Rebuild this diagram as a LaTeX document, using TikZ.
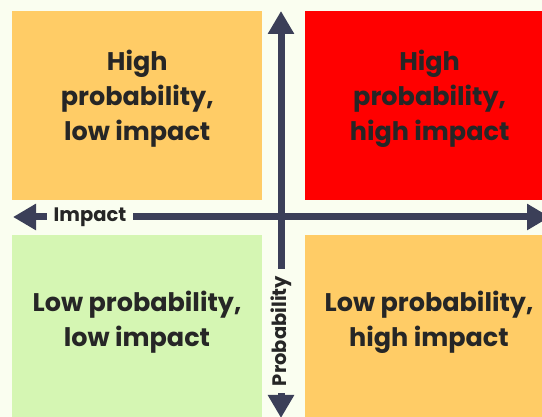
\documentclass[tikz,border=0pt]{standalone}
\usepackage{fontspec}
\setmainfont{Poppins}
\usetikzlibrary{arrows.meta,positioning}

\definecolor{paper}{HTML}{FAFEF0}
\definecolor{amber}{HTML}{FFCC66}
\definecolor{alarm}{HTML}{FF0000}
\definecolor{mint}{HTML}{D5F6B3}
\definecolor{slate}{HTML}{3B3F58}
\definecolor{ink}{HTML}{262626}

\begin{document}
\begin{tikzpicture}[
                        x=1pt, y=1pt,
                        >={Triangle[length=23pt,width=25pt]},
                        node distance=42pt,
                        font=\bfseries,
                        text=ink
                    ]
                    \tikzstyle{quad}=[draw=none,minimum width=250pt,minimum height=189pt,inner sep=0pt,anchor=north west]
                    \tikzstyle{quadtext}=[align=center,font=\fontsize{25.5}{35}\selectfont\bfseries]
                    \tikzstyle{axis}=[slate,line width=7pt,<->]
                    \tikzstyle{axislabel}=[fill=paper,font=\fontsize{19.5}{22}\selectfont\bfseries,inner ysep=2pt]

                    \fill[paper] (0,0) rectangle (542,417);
                    \useasboundingbox (0,0) rectangle (542,417);

                    % the four quadrants
                    \node[quad,fill=amber] (HL) at (12,406) {};
                    \node[quad,fill=alarm] (HH) [right=42pt of HL.north east,anchor=north west] {};
                    \node[quad,fill=mint]  (LL) [below=34pt of HL.south west,anchor=north west] {};
                    \node[quad,fill=amber] (LH) [below=34pt of HH.south west,anchor=north west] {};

                    \node[quadtext] (tHL) at ([yshift=7pt]HL.center) {High\\probability,\\low impact};
                    \node[quadtext] (tHH) at ([yshift=7pt]HH.center) {High\\probability,\\high impact};
                    \node[quadtext] (tLL) at (137,95) {Low probability,\\low impact};
                    \node[quadtext] (tLH) at (429,95) {Low probability,\\high impact};

                    % axes
                    \coordinate (L) at (13,200);
                    \coordinate (R) at (550,200);
                    \coordinate (T) at (281,406);
                    \coordinate (B) at (281,-1);

                    \draw[axis] (L) -- (R);
                    \draw[axis] (B) -- (T);

                    \node[axislabel,inner xsep=6.5pt] (imp) at (90,200) {Impact};
                    \node[axislabel,rotate=90,inner xsep=7pt] (prob) at (281,86) {Probability};
                \end{tikzpicture}
\end{document}
